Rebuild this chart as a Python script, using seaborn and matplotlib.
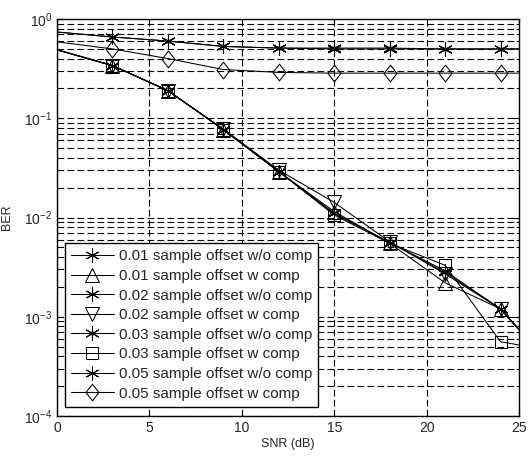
import numpy as np
import pandas as pd
import matplotlib
matplotlib.use("Agg")
import matplotlib.pyplot as plt
from matplotlib.path import Path
from matplotlib.ticker import LogLocator, NullLocator, FixedLocator
import seaborn as sns

# SNR points (dB) and BER curves
snr = [0, 3, 6, 9, 12, 15, 18, 21, 24, 25]

ber_001_wo = [0.49, 0.34, 0.19, 0.077, 0.029, 0.011, 0.0056, 0.0028, 0.0012, 0.00074]
ber_001_w = [0.49, 0.34, 0.19, 0.077, 0.029, 0.0115, 0.0055, 0.0022, 0.0012, 0.00074]
ber_002_wo = [0.49, 0.34, 0.19, 0.077, 0.029, 0.011, 0.0056, 0.0029, 0.0012, 0.00074]
ber_002_w = [0.49, 0.34, 0.19, 0.078, 0.030, 0.0142, 0.0057, 0.0027, 0.0012, 0.00075]
ber_003_wo = [0.74, 0.66, 0.60, 0.53, 0.51, 0.51, 0.51, 0.50, 0.50, 0.50]
ber_003_w = [0.49, 0.34, 0.19, 0.077, 0.029, 0.0106, 0.0055, 0.0033, 0.00056, 0.00052]
ber_005_wo = [0.74, 0.66, 0.60, 0.53, 0.51, 0.50, 0.50, 0.50, 0.50, 0.50]
ber_005_w = [0.59, 0.50, 0.40, 0.31, 0.29, 0.285, 0.285, 0.285, 0.285, 0.285]

labels = [
    "0.01 sample offset w/o comp",
    "0.01 sample offset w comp",
    "0.02 sample offset w/o comp",
    "0.02 sample offset w comp",
    "0.03 sample offset w/o comp",
    "0.03 sample offset w comp",
    "0.05 sample offset w/o comp",
    "0.05 sample offset w comp",
]
curves = [ber_001_wo, ber_001_w, ber_002_wo, ber_002_w,
          ber_003_wo, ber_003_w, ber_005_wo, ber_005_w]

# marker shapes
asterisk = (6, 2, 0)
dot_asterisk = Path.make_compound_path(Path.unit_regular_asterisk(6),
                                       Path.circle((0, 0), 0.22))
diamond = Path([(0, 1), (0.78, 0), (0, -1), (-0.78, 0), (0, 1)],
               [Path.MOVETO, Path.LINETO, Path.LINETO, Path.LINETO, Path.CLOSEPOLY])

markers = [asterisk, "^", asterisk, "v", dot_asterisk, "s", asterisk, diamond]
msizes = [10, 9.5, 10, 9.5, 10, 8.5, 10, 12]
faces = ["none", "none", "none", "none", "k", "none", "none", "none"]

sns.set_style("ticks")
plt.rcParams["font.family"] = ["Liberation Sans", "DejaVu Sans"]
plt.rcParams["mathtext.fontset"] = "custom"
plt.rcParams["mathtext.rm"] = "Liberation Sans"

fig = plt.figure(figsize=(5.28, 4.57), dpi=100)
ax = fig.add_axes([0.108, 0.0897, 0.875, 0.8686])

for lab, yv, mk, ms, fc in zip(labels, curves, markers, msizes, faces):
    df = pd.DataFrame({"SNR": snr, "BER": yv})
    sns.lineplot(data=df, x="SNR", y="BER", ax=ax, color="k", lw=0.75,
                 marker=mk, markersize=ms, markerfacecolor=fc,
                 markeredgecolor="k", markeredgewidth=0.75,
                 markevery=list(range(1, 9)), label=lab, clip_on=True)

ax.set_yscale("log")
ax.set_xlim(0, 25)
ax.set_ylim(1e-4, 1)
ax.xaxis.set_major_locator(FixedLocator([0, 5, 10, 15, 20, 25]))
ax.xaxis.set_minor_locator(NullLocator())
ax.yaxis.set_major_locator(LogLocator(base=10, numticks=10))
ax.yaxis.set_minor_locator(LogLocator(base=10, subs=np.arange(2, 10), numticks=20))

grid_ls = (0, (6.0, 3.0))
ax.grid(True, which="major", axis="both", color="k", ls=grid_ls, lw=0.8)
ax.grid(True, which="minor", axis="y", color="k", ls=grid_ls, lw=0.8)
ax.set_axisbelow(True)

ax.tick_params(which="both", direction="in", top=True, right=True,
               color="k", labelsize=10)
ax.tick_params(which="major", length=4, width=0.8)
ax.tick_params(which="minor", length=2.5, width=0.6)
for s in ax.spines.values():
    s.set_linewidth(1.0)
    s.set_color("k")

ax.set_xlabel("SNR (dB)", fontsize=9, labelpad=2)
ax.set_ylabel("BER", fontsize=9, labelpad=8)

leg = ax.legend(loc="lower left", bbox_to_anchor=(0.017, 0.023), borderaxespad=0,
                fontsize=11, frameon=True, fancybox=False, framealpha=1,
                edgecolor="k", handlelength=2.8, handletextpad=0.35,
                labelspacing=0.37, borderpad=0.4)
leg.get_frame().set_linewidth(1.0)

fig.savefig("out.png", dpi=100)
